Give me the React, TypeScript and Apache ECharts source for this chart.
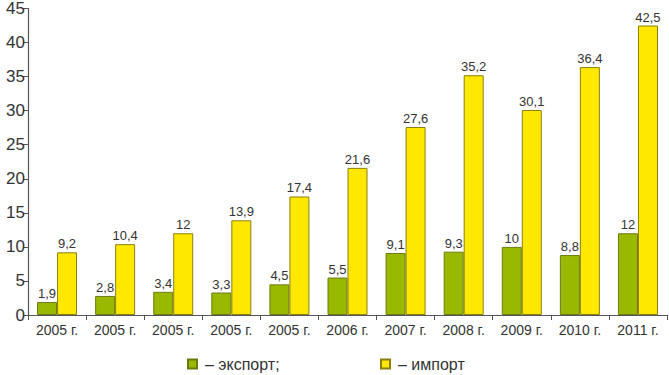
import React, { useEffect, useRef } from "react";
import * as echarts from "echarts";

const categories = ["2005 г.", "2005 г.", "2005 г.", "2005 г.", "2005 г.", "2006 г.", "2007 г.", "2008 г.", "2009 г.", "2010 г.", "2011 г."];
const exportValues = [1.9, 2.8, 3.4, 3.3, 4.5, 5.5, 9.1, 9.3, 10, 8.8, 12];
const importValues = [9.2, 10.4, 12, 13.9, 17.4, 21.6, 27.6, 35.2, 30.1, 36.4, 42.5];
const seriesNames = ["экспорт", "импорт"];
const legendTexts = ["– экспорт;", "– импорт"];

const FONT = "Liberation Sans, Arial, sans-serif";
const fmt = (v: number) => String(v).replace(".", ",");

export default function App() {
  const ref = useRef<HTMLDivElement>(null);
  useEffect(() => {
    if (!ref.current) return;
    const chart = echarts.init(ref.current, null, { renderer: "svg" });
    const label = {
      show: true,
      position: "top" as const,
      distance: 2,
      color: "#333",
      fontSize: 13,
      fontFamily: FONT,
      formatter: (p: any) => fmt(p.value),
    };
    const legendText = { color: "#333", fontSize: 16, fontFamily: FONT, padding: [0, 0, 0, 3] };
    chart.setOption({
      animation: false,
      backgroundColor: "#fff",
      grid: { left: 28, right: 2, top: 6, bottom: 60, containLabel: false },
      legend: [
        {
          data: [seriesNames[0]],
          left: 187,
          top: 356,
          icon: "rect",
          itemWidth: 9,
          itemHeight: 9,
          formatter: () => legendTexts[0],
          textStyle: legendText,
          padding: 0,
        },
        {
          data: [seriesNames[1]],
          left: 380,
          top: 356,
          icon: "rect",
          itemWidth: 9,
          itemHeight: 9,
          formatter: () => legendTexts[1],
          textStyle: legendText,
          padding: 0,
        },
      ],
      xAxis: {
        type: "category",
        data: categories,
        axisLine: { lineStyle: { color: "#555", width: 1.2 } },
        axisTick: { show: true, length: 5, lineStyle: { color: "#555" } },
        axisLabel: { color: "#333", fontSize: 14, fontFamily: FONT, margin: 8, interval: 0 },
      },
      yAxis: {
        type: "value",
        min: 0,
        max: 45,
        interval: 5,
        splitLine: { show: false },
        axisLine: { show: true, lineStyle: { color: "#555", width: 1.2 } },
        axisTick: { show: true, length: 5, lineStyle: { color: "#555" } },
        axisLabel: { color: "#333", fontSize: 17, fontFamily: FONT, margin: 3 },
      },
      series: [
        {
          name: seriesNames[0],
          type: "bar",
          data: exportValues,
          barWidth: 20,
          barGap: "0%",
          itemStyle: { color: "#99b800", borderColor: "#6e7a10", borderWidth: 1 },
          label,
        },
        {
          name: seriesNames[1],
          type: "bar",
          data: importValues,
          barWidth: 20,
          barGap: "0%",
          itemStyle: { color: "#ffe800", borderColor: "#8a7f10", borderWidth: 1 },
          label,
        },
      ],
    });
    return () => chart.dispose();
  }, []);
  return <div ref={ref} style={{ width: 669, height: 375, position: "absolute", left: 0, top: 0 }} />;
}
